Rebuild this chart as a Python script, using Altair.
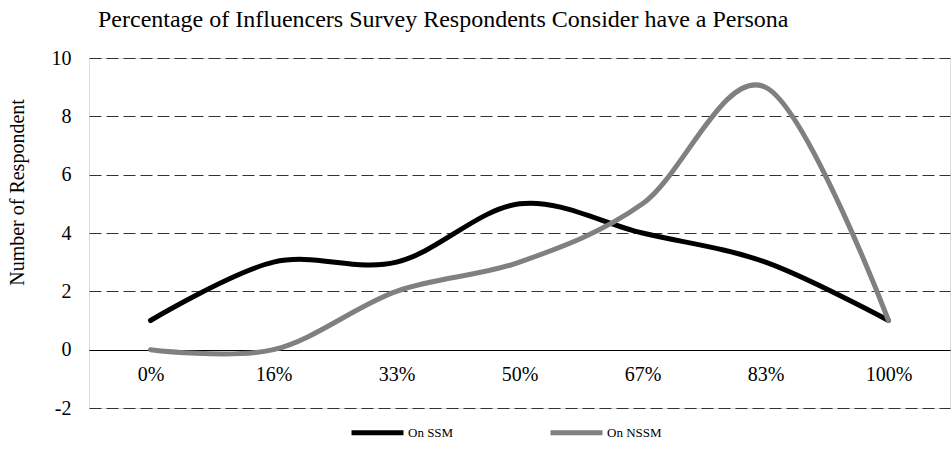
import altair as alt
import pandas as pd

# Share of influencers that respondents consider to have a persona
categories = ["0%", "16%", "33%", "50%", "67%", "83%", "100%"]
on_ssm = [1, 3, 3, 5, 4, 3, 1]
on_nssm = [0, 0, 2, 3, 5, 9, 1]
series_names = ["On SSM", "On NSSM"]
y_ticks = [-2, 0, 2, 4, 6, 8, 10]

rows = []
for name, values in zip(series_names, [on_ssm, on_nssm]):
    for cat, v in zip(categories, values):
        rows.append({"Share": cat, "Respondents": v, "Series": name})
df = pd.DataFrame(rows)

FONT = "'Liberation Serif', 'Times New Roman', serif"

chart = (
    alt.Chart(df)
    .mark_line(interpolate="cardinal", strokeWidth=5, strokeCap="round", strokeJoin="round")
    .encode(
        x=alt.X(
            "Share:N",
            sort=categories,
            scale=alt.Scale(type="point", padding=0.5),
            axis=alt.Axis(
                title=None,
                orient="bottom",
                offset=-58,
                domain=True,
                domainColor="#000000",
                domainWidth=1,
                ticks=False,
                tickSize=0,
                labelPadding=14,
                labelFont=FONT,
                labelFontSize=20,
                labelColor="#000000",
                labelAngle=0,
                grid=False,
            ),
        ),
        y=alt.Y(
            "Respondents:Q",
            scale=alt.Scale(domain=[-2, 10], nice=False, zero=False),
            axis=alt.Axis(
                title="Number of Respondent",
                values=y_ticks,
                labelExpr="datum.value + ''",
                domain=False,
                ticks=False,
                tickSize=0,
                labelPadding=18,
                labelFont=FONT,
                labelFontSize=20,
                labelColor="#000000",
                titleFont=FONT,
                titleFontSize=20,
                titleFontWeight="normal",
                titleColor="#000000",
                titleX=-72,
                titleY=134,
                titleAngle=-90,
                titleAlign="center",
                titleBaseline="middle",
                grid=True,
                gridColor="#333333",
                gridWidth=1,
                gridDash=[12, 5],
            ),
        ),
        color=alt.Color(
            "Series:N",
            sort=series_names,
            scale=alt.Scale(domain=series_names, range=["#000000", "#808080"]),
            legend=alt.Legend(
                title=None,
                orient="none",
                direction="horizontal",
                legendX=260,
                legendY=346,
                symbolType="stroke",
                symbolSize=2700,
                symbolStrokeWidth=5,
                labelFont=FONT,
                labelFontSize=13,
                labelColor="#000000",
                labelOffset=2,
                columnPadding=86,
            ),
        ),
    )
    .properties(
        width=861,
        height=350,
        title=alt.TitleParams(
            "Percentage of Influencers Survey Respondents Consider have a Persona",
            anchor="start",
            frame="group",
            dx=9,
            offset=16,
            font=FONT,
            fontSize=24,
            fontWeight="normal",
            color="#000000",
        ),
        autosize=alt.AutoSizeParams(type="none"),
        padding={"left": 89, "top": 58, "right": 1, "bottom": 43},
    )
    .configure_view(stroke=None)
    .configure(background="#ffffff")
)

chart.save("out.html", embed_options={"renderer": "svg", "actions": False})
